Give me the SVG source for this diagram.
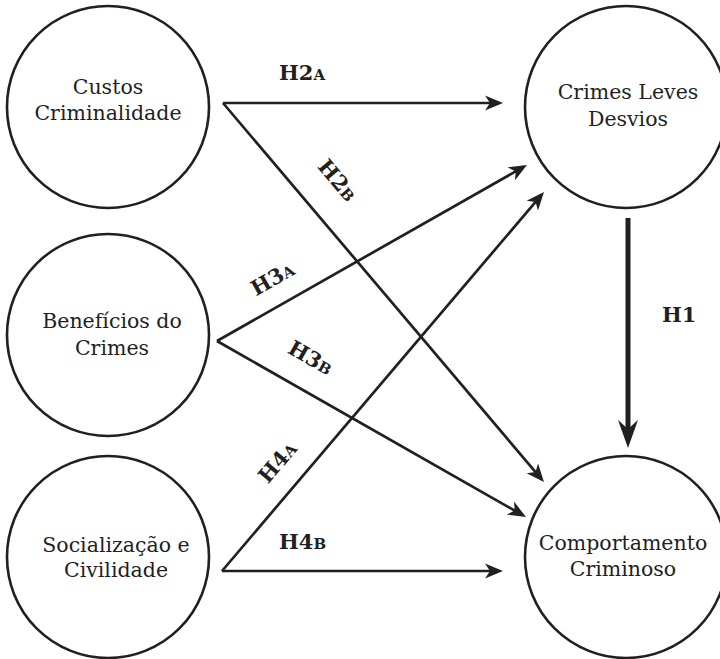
<svg xmlns="http://www.w3.org/2000/svg" width="720" height="659" viewBox="0 0 720 659">
<style>
.node circle{fill:#fff;stroke:#231f20;stroke-width:2.6}
.node text{font-family:'DejaVu Serif',serif;font-size:20.5px;fill:#231f20;text-anchor:middle}
.conn line{stroke:#231f20;stroke-width:2.7;fill:none}
.lbl{font-family:'DejaVu Serif',serif;font-weight:bold;font-size:21px;fill:#231f20}
.sc{font-size:15px}
</style>
<defs>
<marker id="ah" markerUnits="userSpaceOnUse" viewBox="0 -8 19 16" markerWidth="19" markerHeight="16" refX="8" refY="0" orient="auto">
<path d="M0,-7.5 L18,0 L0,7.5 L5,0 Z" fill="#231f20"/>
</marker>
<marker id="ahb" markerUnits="userSpaceOnUse" viewBox="0 -11 29 22" markerWidth="29" markerHeight="22" refX="14" refY="0" orient="auto">
<path d="M0,-10 L28,0 L0,10 L9,0 Z" fill="#231f20"/>
</marker>
</defs>
<rect width="720" height="659" fill="#fff"/>
<g id="n-custos" class="node">
<circle cx="108" cy="107" r="101"/>
<text x="108" y="94">Custos</text>
<text x="108" y="120">Criminalidade</text>
</g>
<g id="n-beneficios" class="node">
<circle cx="108" cy="335" r="101"/>
<text x="112" y="328">Benefícios do</text>
<text x="112" y="355">Crimes</text>
</g>
<g id="n-socializacao" class="node">
<circle cx="108" cy="557" r="101"/>
<text x="116" y="552">Socialização e</text>
<text x="116" y="577">Civilidade</text>
</g>
<g id="n-crimes-leves" class="node">
<circle cx="626" cy="107" r="101"/>
<text x="628" y="99">Crimes Leves</text>
<text x="628" y="126">Desvios</text>
</g>
<g id="n-comportamento" class="node">
<circle cx="626" cy="557" r="101"/>
<text x="623" y="550">Comportamento</text>
<text x="623" y="576">Criminoso</text>
</g>
<g id="connectors" class="conn">
<line x1="223" y1="103" x2="493" y2="103" marker-end="url(#ah)"/>
<line x1="223" y1="103" x2="537.5" y2="474.4" marker-end="url(#ah)"/>
<line x1="217" y1="341" x2="518.3" y2="169.9" marker-end="url(#ah)"/>
<line x1="217" y1="341" x2="517.3" y2="512.1" marker-end="url(#ah)"/>
<line x1="222" y1="571" x2="537.5" y2="199.6" marker-end="url(#ah)"/>
<line x1="222" y1="571" x2="493" y2="571" marker-end="url(#ah)"/>
<line x1="628" y1="218" x2="628" y2="434" style="stroke-width:5" marker-end="url(#ahb)"/>
</g>
<g id="labels">
<text class="lbl" x="279" y="80">H2<tspan class="sc">A</tspan></text>
<text class="lbl" text-anchor="middle" transform="translate(332,185) rotate(49.7)">H2<tspan class="sc">B</tspan></text>
<text class="lbl" text-anchor="middle" transform="translate(276,285) rotate(-29.6)">H3<tspan class="sc">A</tspan></text>
<text class="lbl" text-anchor="middle" transform="translate(307,364) rotate(29.7)">H3<tspan class="sc">B</tspan></text>
<text class="lbl" text-anchor="middle" transform="translate(283,467) rotate(-49.6)">H4<tspan class="sc">A</tspan></text>
<text class="lbl" x="279" y="549">H4<tspan class="sc">B</tspan></text>
<text class="lbl" x="662" y="322">H1</text>
</g>
</svg>
